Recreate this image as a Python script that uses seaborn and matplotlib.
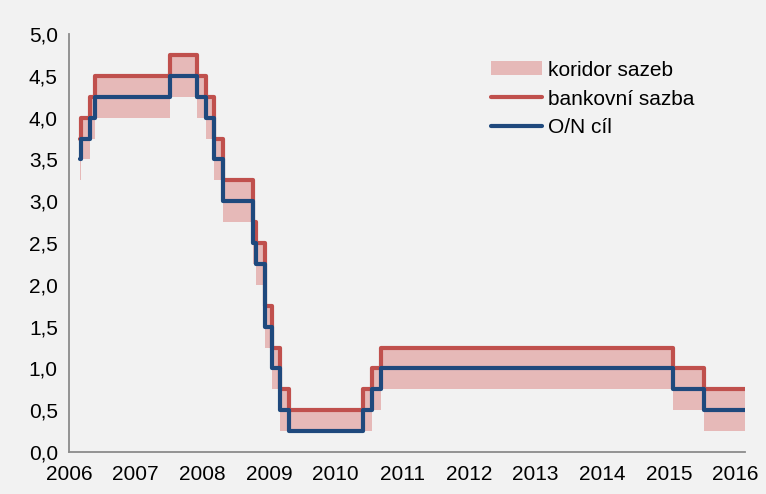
import numpy as np
import pandas as pd
import matplotlib
matplotlib.use("Agg")
import matplotlib.pyplot as plt
from matplotlib.patches import Patch
from matplotlib.lines import Line2D
from matplotlib.ticker import FuncFormatter, MultipleLocator
import seaborn as sns

# ---- data (step changes) ----
change_dates = ["2006-03-01", "2006-03-07", "2006-04-25", "2006-05-24", "2007-07-10",
                "2007-12-04", "2008-01-22", "2008-03-04", "2008-04-22", "2008-10-08",
                "2008-10-21", "2008-12-09", "2009-01-20", "2009-03-03", "2009-04-21",
                "2010-06-01", "2010-07-20", "2010-09-08", "2015-01-21", "2015-07-15",
                "2016-02-22"]
on_target    = [3.50, 3.75, 4.00, 4.25, 4.50, 4.25, 4.00, 3.50, 3.00, 2.50,
                2.25, 1.50, 1.00, 0.50, 0.25, 0.50, 0.75, 1.00, 0.75, 0.50, 0.50]
bank_rate    = [3.75, 4.00, 4.25, 4.50, 4.75, 4.50, 4.25, 3.75, 3.25, 2.75,
                2.50, 1.75, 1.25, 0.75, 0.50, 0.75, 1.00, 1.25, 1.00, 0.75, 0.75]
corridor_low = [3.25, 3.50, 3.75, 4.00, 4.25, 4.00, 3.75, 3.25, 2.75, 2.25,
                2.00, 1.25, 0.75, 0.25, 0.25, 0.25, 0.50, 0.75, 0.50, 0.25, 0.25]
year_ticks = list(range(2006, 2017))
legend_labels = ["koridor sazeb", "bankovní sazba", "O/N cíl"]

def to_decimal_year(s):
    d = pd.Timestamp(s)
    days = 366 if d.is_leap_year else 365
    return d.year + (d.dayofyear - 1) / days

df = pd.DataFrame({
    "x": [to_decimal_year(s) for s in change_dates],
    "on": on_target,
    "bank": bank_rate,
    "low": corridor_low,
})

# ---- style ----
sns.set_theme(style="white")
plt.rcParams["font.family"] = ["Liberation Sans", "DejaVu Sans"]
plt.rcParams["text.color"] = "black"
bg = "#F2F2F2"
red = "#C0504D"
blue = "#1F497D"
pink = "#E6B9B8"

fig = plt.figure(figsize=(7.66, 4.94), dpi=100, facecolor=bg)
ax = fig.add_axes([0.090, 0.085, 0.8826, 0.846])
ax.set_facecolor(bg)

ax.fill_between(df["x"], df["low"], df["bank"], step="post", color=pink, lw=0, zorder=1)
sns.lineplot(data=df, x="x", y="bank", ax=ax, color=red, lw=3.0,
             drawstyle="steps-post", zorder=2)
sns.lineplot(data=df, x="x", y="on", ax=ax, color=blue, lw=3.0,
             drawstyle="steps-post", zorder=3)

ax.set_xlim(2006, df["x"].iloc[-1])
ax.set_ylim(0, 5)
ax.set_xticks(year_ticks)
ax.set_xticklabels([str(y) for y in year_ticks])
ax.yaxis.set_major_locator(MultipleLocator(0.5))
ax.yaxis.set_major_formatter(FuncFormatter(lambda v, p: f"{v:.1f}".replace(".", ",")))
ax.set_xlabel("")
ax.set_ylabel("")

for s in ["top", "right"]:
    ax.spines[s].set_visible(False)
for s in ["left", "bottom"]:
    ax.spines[s].set_color("#8C8C8C")
    ax.spines[s].set_linewidth(1.3)
ax.tick_params(axis="both", which="both", direction="out", length=5, width=1.3,
               color="#8C8C8C", labelsize=15, labelcolor="black")
ax.tick_params(axis="x", pad=4)
ax.tick_params(axis="y", pad=3)

handles = [Patch(facecolor=pink, edgecolor="none"),
           Line2D([0], [0], color=red, lw=3.0),
           Line2D([0], [0], color=blue, lw=3.0)]
leg = ax.legend(handles, legend_labels, loc="upper left",
                bbox_to_anchor=(0.641, 0.877), bbox_transform=fig.transFigure,
                frameon=False, fontsize=15, handlelength=2.45, handleheight=0.65,
                handletextpad=0.3, labelspacing=0.47, borderaxespad=0, borderpad=0,
                labelcolor="black")

fig.savefig("out.png", dpi=100, facecolor=bg)
